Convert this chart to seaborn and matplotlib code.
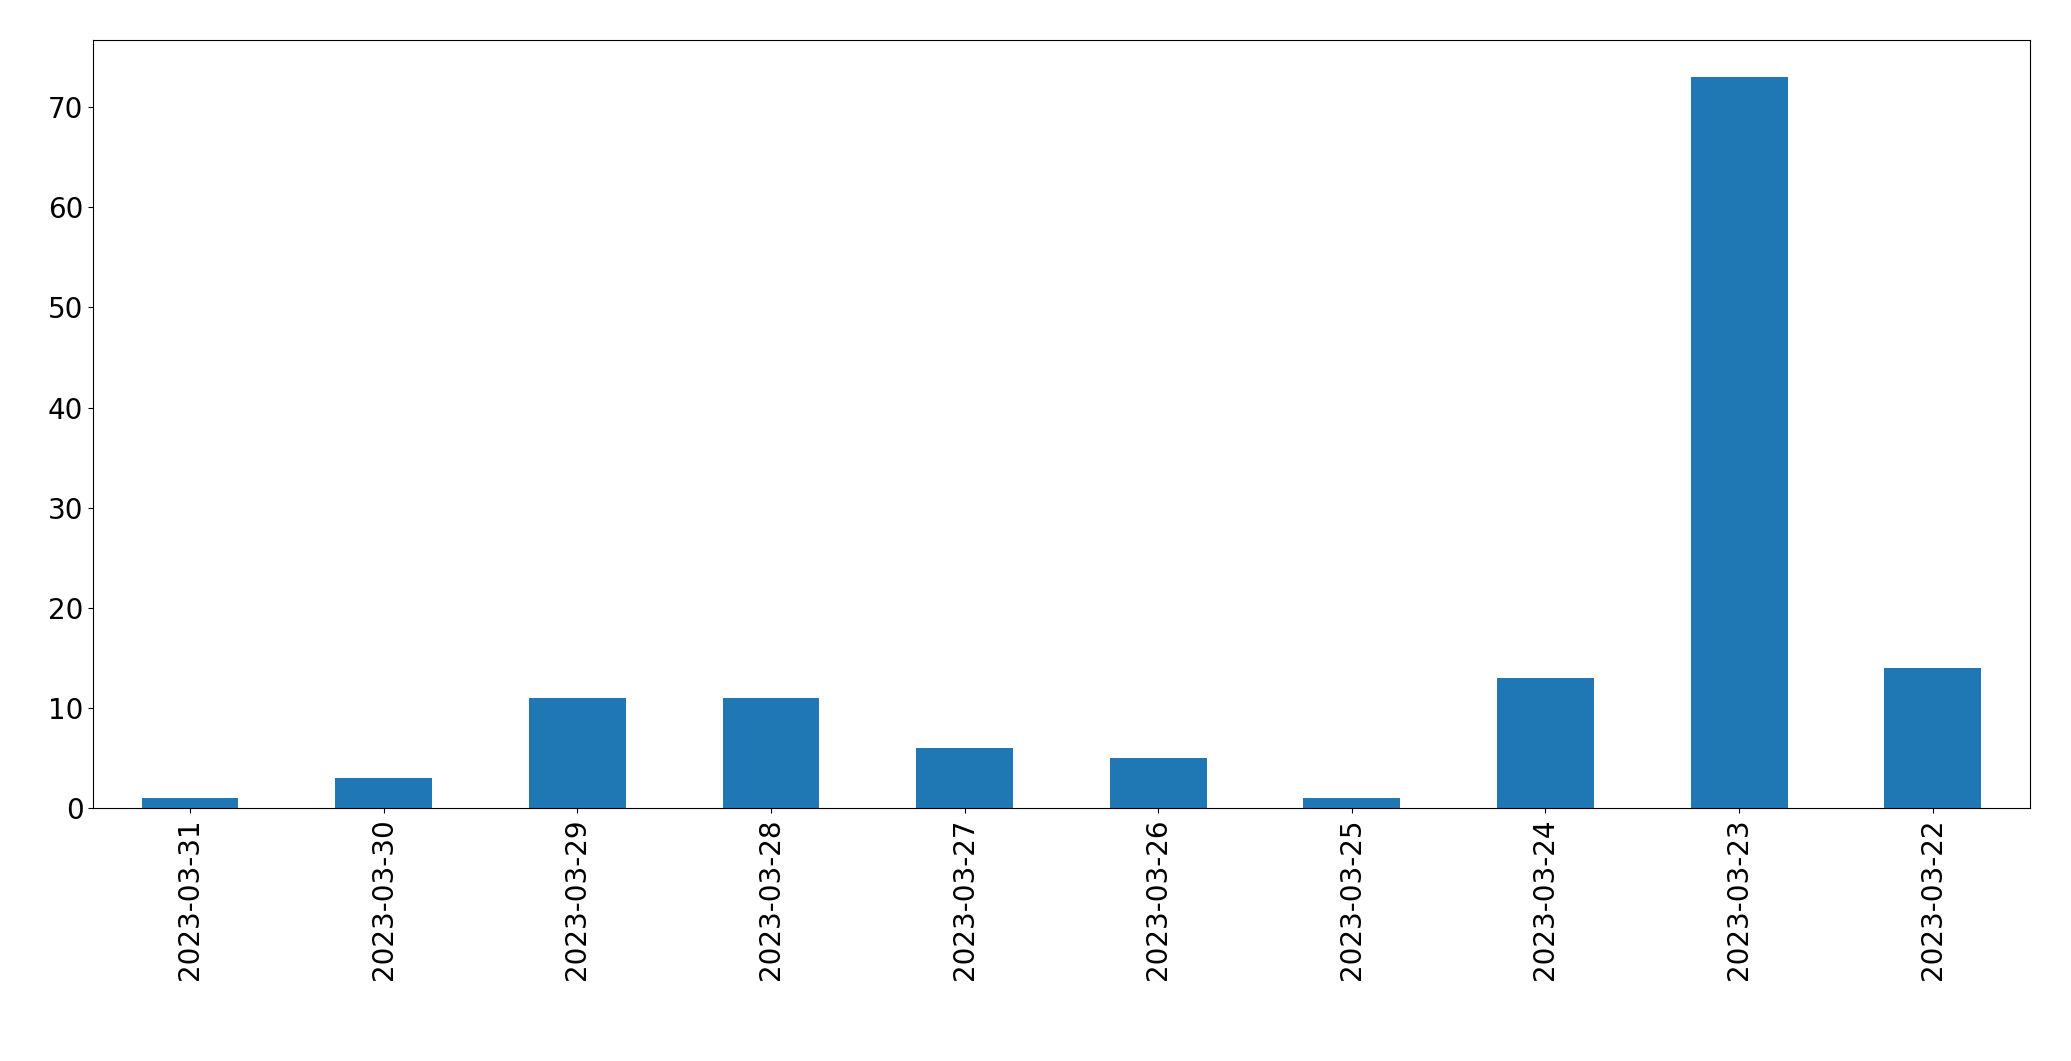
import matplotlib
matplotlib.use("Agg")
import matplotlib.pyplot as plt
import seaborn as sns
import pandas as pd

dates = ["2023-03-31","2023-03-30","2023-03-29","2023-03-28","2023-03-27",
         "2023-03-26","2023-03-25","2023-03-24","2023-03-23","2023-03-22"]
counts = [1, 3, 11, 11, 6, 5, 1, 13, 73, 14]

df = pd.DataFrame({"date": dates, "count": counts})
fig = plt.figure(figsize=(20.71, 10.61), dpi=100)
ax = fig.add_axes([0.045, 0.238, 0.935, 0.724])
sns.barplot(data=df, x="date", y="count", order=dates, color="#1f77b4",
            saturation=1, width=0.5, ax=ax)
ax.set_xlim(-0.5, len(dates) - 0.5)
ax.set_ylim(0, max(counts) * 1.05)
ax.set_xlabel("")
ax.set_ylabel("")
ax.tick_params(axis="both", labelsize=20)
ax.tick_params(axis="x", rotation=90)
fig.savefig("out.png", dpi=100)
